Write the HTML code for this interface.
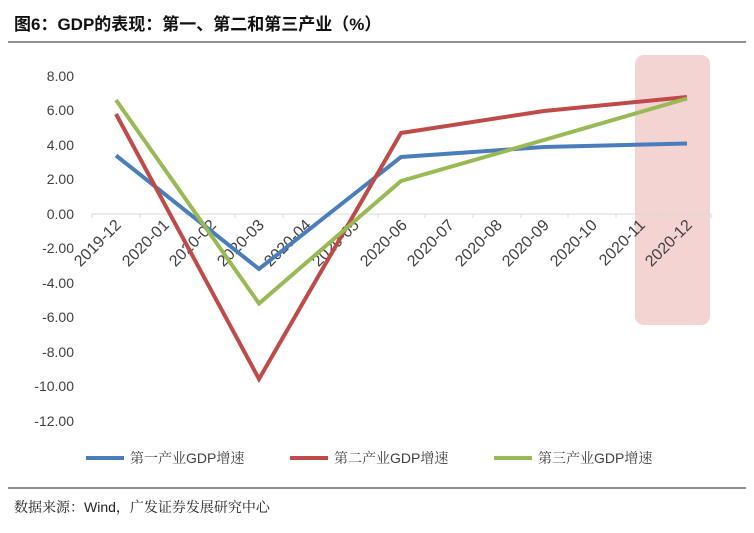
<!DOCTYPE html>
<html><head><meta charset="utf-8"><style>
body{margin:0;background:#fff;}
svg{display:block;font-family:"Liberation Sans","Noto Sans CJK SC",sans-serif;}
</style></head><body>
<svg width="754" height="533" viewBox="0 0 754 533" xmlns="http://www.w3.org/2000/svg">
<text x="14" y="30" font-size="17" font-weight="bold" fill="#111">图6：GDP的表现：第一、第二和第三产业（%）</text>
<line x1="8" y1="42" x2="746" y2="42" stroke="#222" stroke-width="1"/>
<rect x="635" y="55" width="75" height="270" rx="9" fill="#f4d3d3"/>
<g font-size="14" fill="#404040" text-anchor="end">
<text x="74" y="81">8.00</text><text x="74" y="115">6.00</text><text x="74" y="150">4.00</text>
<text x="74" y="184">2.00</text><text x="74" y="219">0.00</text><text x="74" y="253">-2.00</text>
<text x="74" y="288">-4.00</text><text x="74" y="322">-6.00</text><text x="74" y="357">-8.00</text>
<text x="74" y="391">-10.00</text><text x="74" y="426">-12.00</text>
</g>
<line x1="92" y1="214" x2="711" y2="214" stroke="#d9d9d9" stroke-width="1"/>
<g stroke="#d9d9d9">
<line x1="92" y1="214" x2="92" y2="218"/><line x1="140" y1="214" x2="140" y2="218"/><line x1="187" y1="214" x2="187" y2="218"/><line x1="235" y1="214" x2="235" y2="218"/><line x1="283" y1="214" x2="283" y2="218"/><line x1="330" y1="214" x2="330" y2="218"/><line x1="378" y1="214" x2="378" y2="218"/><line x1="425" y1="214" x2="425" y2="218"/><line x1="473" y1="214" x2="473" y2="218"/><line x1="521" y1="214" x2="521" y2="218"/><line x1="568" y1="214" x2="568" y2="218"/><line x1="616" y1="214" x2="616" y2="218"/><line x1="663" y1="214" x2="663" y2="218"/><line x1="711" y1="214" x2="711" y2="218"/>
</g>
<g font-size="16" fill="#404040" text-anchor="end">
<text transform="translate(122,226) rotate(-45)">2019-12</text>
<text transform="translate(170,226) rotate(-45)">2020-01</text>
<text transform="translate(217,226) rotate(-45)">2020-02</text>
<text transform="translate(265,226) rotate(-45)">2020-03</text>
<text transform="translate(312,226) rotate(-45)">2020-04</text>
<text transform="translate(360,226) rotate(-45)">2020-05</text>
<text transform="translate(408,226) rotate(-45)">2020-06</text>
<text transform="translate(455,226) rotate(-45)">2020-07</text>
<text transform="translate(503,226) rotate(-45)">2020-08</text>
<text transform="translate(550,226) rotate(-45)">2020-09</text>
<text transform="translate(598,226) rotate(-45)">2020-10</text>
<text transform="translate(646,226) rotate(-45)">2020-11</text>
<text transform="translate(693,226) rotate(-45)">2020-12</text>
</g>
<g fill="none" stroke-width="4" stroke-linejoin="miter">
<polyline stroke="#4a7ebb" points="116,155.5 259,269 401,157 544,147 687,143.5"/>
<polyline stroke="#be4b48" points="116,114 259,379 401,133 544,111 687,97"/>
<polyline stroke="#98b954" points="116,100 259,303.5 401,181 544,140 687,98.5"/>
</g>
<g stroke-width="4">
<line x1="86" y1="458" x2="124" y2="458" stroke="#4a7ebb"/>
<line x1="290" y1="458" x2="328" y2="458" stroke="#be4b48"/>
<line x1="494" y1="458" x2="532" y2="458" stroke="#98b954"/>
</g>
<g font-size="14" fill="#404040" font-family="'Noto Serif CJK SC','Liberation Sans',serif">
<text x="130" y="463">第一产业<tspan font-family="'Liberation Sans',sans-serif">GDP</tspan>增速</text>
<text x="334" y="463">第二产业<tspan font-family="'Liberation Sans',sans-serif">GDP</tspan>增速</text>
<text x="538" y="463">第三产业<tspan font-family="'Liberation Sans',sans-serif">GDP</tspan>增速</text>
</g>
<line x1="8" y1="488" x2="746" y2="488" stroke="#222" stroke-width="1"/>
<text x="14" y="512" font-size="14" fill="#222" font-family="'Noto Serif CJK SC',serif">数据来源：<tspan font-family="'Liberation Sans',sans-serif">Wind</tspan>，广发证券发展研究中心</text>
</svg>
</body></html>
